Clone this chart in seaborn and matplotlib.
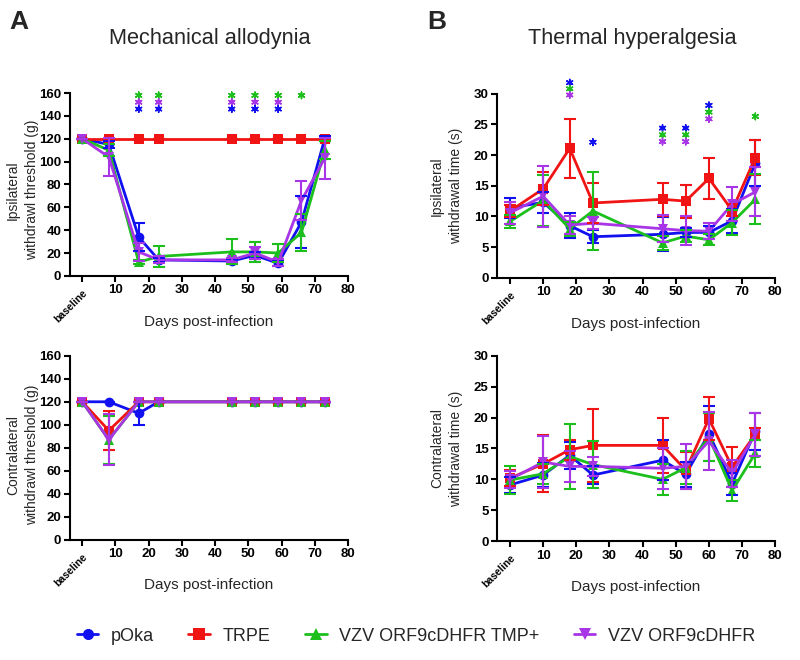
import pandas as pd
import seaborn as sns
import matplotlib.pyplot as plt
from matplotlib.lines import Line2D

# Groups, colours and marker shapes (legend order)
groups = ["pOka", "TRPE", "VZV ORF9cDHFR TMP+", "VZV ORF9cDHFR"]
colors = ["#1010F0", "#F01414", "#1CBF1C", "#A836E6"]
markers = ["o", "s", "^", "v"]

days_mech = [0, 8, 17, 23, 45, 52, 59, 66, 73]
days_therm = [0, 10, 18, 25, 46, 53, 60, 67, 74]
tick_days = [0, 10, 20, 30, 40, 50, 60, 70, 80]
tick_labels = ["baseline", "10", "20", "30", "40", "50", "60", "70", "80"]

# Ipsilateral withdrawal threshold (g), mean and SEM
mech_ipsi = {
    "pOka": [120, 115, 34, 14, 13, 18, 11, 47, 120],
    "TRPE": [120, 120, 120, 120, 120, 120, 120, 120, 120],
    "VZV ORF9cDHFR TMP+": [120, 110, 12, 17, 21, 21, 20, 38, 110],
    "VZV ORF9cDHFR": [120, 104, 21, 14, 14, 20, 12, 66, 103],
}
mech_ipsi_err = {
    "pOka": [0, 3, 12, 2, 2, 3, 2, 23, 2],
    "TRPE": [0, 0, 0, 0, 0, 0, 0, 0, 0],
    "VZV ORF9cDHFR TMP+": [0, 5, 2, 9, 11, 9, 8, 16, 8],
    "VZV ORF9cDHFR": [0, 17, 8, 3, 2, 5, 3, 17, 18],
}

# Contralateral withdrawal threshold (g)
mech_contra = {
    "pOka": [120, 120, 110, 120, 120, 120, 120, 120, 120],
    "TRPE": [120, 95, 120, 120, 120, 120, 120, 120, 120],
    "VZV ORF9cDHFR TMP+": [120, 87, 120, 120, 120, 120, 120, 120, 120],
    "VZV ORF9cDHFR": [120, 87, 120, 120, 120, 120, 120, 120, 120],
}
mech_contra_err = {
    "pOka": [0, 0, 10, 0, 0, 0, 0, 0, 0],
    "TRPE": [0, 17, 0, 0, 0, 0, 0, 0, 0],
    "VZV ORF9cDHFR TMP+": [0, 21, 0, 0, 0, 0, 0, 0, 0],
    "VZV ORF9cDHFR": [0, 22, 0, 0, 0, 0, 0, 0, 0],
}

# Ipsilateral withdrawal time (s)
therm_ipsi = {
    "pOka": [11.4, 12.3, 8.5, 6.7, 7.1, 7.4, 7.4, 9.3, 18.7],
    "TRPE": [10.9, 14.5, 21.1, 12.2, 12.8, 12.5, 16.2, 11.0, 19.6],
    "VZV ORF9cDHFR TMP+": [9.2, 12.6, 8.0, 10.9, 5.7, 6.8, 6.2, 9.0, 12.8],
    "VZV ORF9cDHFR": [10.6, 13.3, 8.6, 8.9, 8.0, 7.7, 7.6, 12.0, 14.0],
}
therm_ipsi_err = {
    "pOka": [1.6, 1.7, 2.0, 1.1, 2.8, 0.8, 1.0, 2.0, 3.7],
    "TRPE": [1.0, 2.7, 4.8, 3.2, 2.7, 2.7, 3.3, 1.0, 2.9],
    "VZV ORF9cDHFR TMP+": [1.0, 4.1, 1.1, 6.3, 1.2, 1.0, 0.9, 2.0, 4.1],
    "VZV ORF9cDHFR": [1.8, 5.0, 1.5, 1.0, 2.2, 2.3, 1.3, 2.8, 4.0],
}

# Contralateral withdrawal time (s)
therm_contra = {
    "pOka": [9.1, 10.7, 13.9, 10.7, 13.1, 10.8, 17.4, 9.3, 17.8],
    "TRPE": [10.2, 12.5, 14.8, 15.5, 15.5, 11.5, 19.8, 12.0, 17.3],
    "VZV ORF9cDHFR TMP+": [9.9, 10.9, 13.7, 12.4, 10.0, 11.9, 16.8, 8.2, 14.2],
    "VZV ORF9cDHFR": [10.0, 12.8, 12.1, 12.1, 11.8, 12.1, 16.2, 11.0, 17.3],
}
therm_contra_err = {
    "pOka": [1.3, 2.0, 2.2, 1.5, 3.2, 2.0, 4.4, 1.8, 3.0],
    "TRPE": [1.3, 4.6, 1.6, 5.9, 4.5, 3.0, 3.5, 3.3, 1.0],
    "VZV ORF9cDHFR TMP+": [2.3, 1.6, 5.3, 3.8, 2.5, 2.7, 3.9, 1.7, 2.2],
    "VZV ORF9cDHFR": [1.4, 4.2, 2.5, 1.6, 3.3, 3.6, 4.7, 2.2, 3.5],
}

# Significance asterisks: day, group colour, height
mech_star_day = [17, 17, 17, 23, 23, 23, 45, 45, 45, 52, 52, 52, 59, 59, 59, 66]
mech_star_grp = ["VZV ORF9cDHFR TMP+", "VZV ORF9cDHFR", "pOka"] * 5 + ["VZV ORF9cDHFR TMP+"]
mech_star_y = [158, 152, 146] * 5 + [158]

therm_star_day = [18, 18, 18, 25, 46, 46, 46, 53, 53, 53, 60, 60, 60, 74]
therm_star_grp = (["pOka", "VZV ORF9cDHFR TMP+", "VZV ORF9cDHFR"] + ["pOka"]
                  + ["pOka", "VZV ORF9cDHFR TMP+", "VZV ORF9cDHFR"] * 3
                  + ["VZV ORF9cDHFR TMP+"])
therm_star_y = [31.8, 30.8, 29.8, 22.1, 24.4, 23.3, 22.2, 24.4, 23.3, 22.2,
                28.1, 27.0, 25.9, 26.3]

sns.set_theme(style="ticks")
plt.rcParams["font.family"] = ["Liberation Sans", "DejaVu Sans"]
plt.rcParams["axes.linewidth"] = 1.5

palette = dict(zip(groups, colors))


def draw_panel(ax, days, means, errs, ymax, ystep, xmin, ylabel):
    rows = []
    for g in groups:
        for d, m in zip(days, means[g]):
            rows.append((d, m, g))
    df = pd.DataFrame(rows, columns=["day", "value", "group"])
    sns.lineplot(data=df, x="day", y="value", hue="group", style="group",
                 hue_order=groups, style_order=groups, palette=palette,
                 markers=markers, dashes=False, linewidth=2, markersize=7,
                 markeredgewidth=0, errorbar=None, legend=False, ax=ax)
    for g in groups:
        ax.errorbar(days, means[g], yerr=errs[g], fmt="none", ecolor=palette[g],
                    elinewidth=1.5, capsize=4, capthick=1.5)
    ax.set_xlim(xmin, 80)
    ax.set_ylim(0, ymax)
    ax.set_yticks(range(0, ymax + 1, ystep))
    ax.set_xticks(tick_days)
    ax.set_xticklabels(tick_labels)
    ax.tick_params(direction="out", length=4, width=1.5, color="black",
                   labelcolor="black", pad=2)
    for lab in ax.get_xticklabels() + ax.get_yticklabels():
        lab.set_fontweight("bold")
        lab.set_fontsize(9.5)
    base = ax.get_xticklabels()[0]
    base.set_rotation(45)
    base.set_ha("right")
    base.set_va("top")
    base.set_rotation_mode("anchor")
    base.set_fontsize(7.5)
    base.set_y(-0.02)
    for s in ["left", "bottom"]:
        ax.spines[s].set_color("black")
    sns.despine(ax=ax)
    ax.set_xlabel("Days post-infection", fontsize=11, va="center")
    ax.set_ylabel(ylabel, fontsize=10, linespacing=1.45, va="center")


fig = plt.figure(figsize=(8, 6.6), dpi=100)
ax1 = fig.add_axes([0.087, 0.582, 0.348, 0.277])
ax2 = fig.add_axes([0.621, 0.579, 0.348, 0.279])
ax3 = fig.add_axes([0.087, 0.182, 0.348, 0.279])
ax4 = fig.add_axes([0.621, 0.180, 0.348, 0.281])

draw_panel(ax1, days_mech, mech_ipsi, mech_ipsi_err, 160, 20, -3.8,
           "Ipsilateral\nwithdrawl threshold (g)")
draw_panel(ax2, days_therm, therm_ipsi, therm_ipsi_err, 30, 5, -4,
           "Ipsilateral\nwithdrawal time (s)")
draw_panel(ax3, days_mech, mech_contra, mech_contra_err, 160, 20, -3.8,
           "Contralateral\nwithdrawl threshold (g)")
draw_panel(ax4, days_therm, therm_contra, therm_contra_err, 30, 5, -4,
           "Contralateral\nwithdrawal time (s)")

ax1.xaxis.set_label_coords(0.5, -0.25)
ax2.xaxis.set_label_coords(0.5, -0.25)
ax3.xaxis.set_label_coords(0.5, -0.245)
ax4.xaxis.set_label_coords(0.5, -0.245)
ax1.yaxis.set_label_coords(-0.17, 0.47)
ax2.yaxis.set_label_coords(-0.18, 0.5)
ax3.yaxis.set_label_coords(-0.17, 0.46)
ax4.yaxis.set_label_coords(-0.18, 0.5)

for ax, sd, sg, sy in [(ax1, mech_star_day, mech_star_grp, mech_star_y),
                       (ax2, therm_star_day, therm_star_grp, therm_star_y)]:
    ax.scatter(sd, sy, marker=(6, 2, 0), s=22, linewidths=1.1,
               c=[palette[g] for g in sg], clip_on=False, zorder=5)

fig.text(0.012, 0.985, "A", fontsize=19, fontweight="bold", va="top")
fig.text(0.534, 0.985, "B", fontsize=19, fontweight="bold", va="top")
fig.text(0.2625, 0.942, "Mechanical allodynia", fontsize=15.7, ha="center", va="center")
fig.text(0.79, 0.942, "Thermal hyperalgesia", fontsize=15.7, ha="center", va="center")

handles = [Line2D([], [], color=c, marker=m, linewidth=2, markersize=8,
                  markeredgewidth=0) for c, m in zip(colors, markers)]
fig.legend(handles, groups, loc="center", bbox_to_anchor=(0.52, 0.036), ncol=4,
           frameon=False, handlelength=1.2, handletextpad=0.7, columnspacing=1.9,
           prop=dict(size=13))

fig.savefig("out.png", dpi=100)
